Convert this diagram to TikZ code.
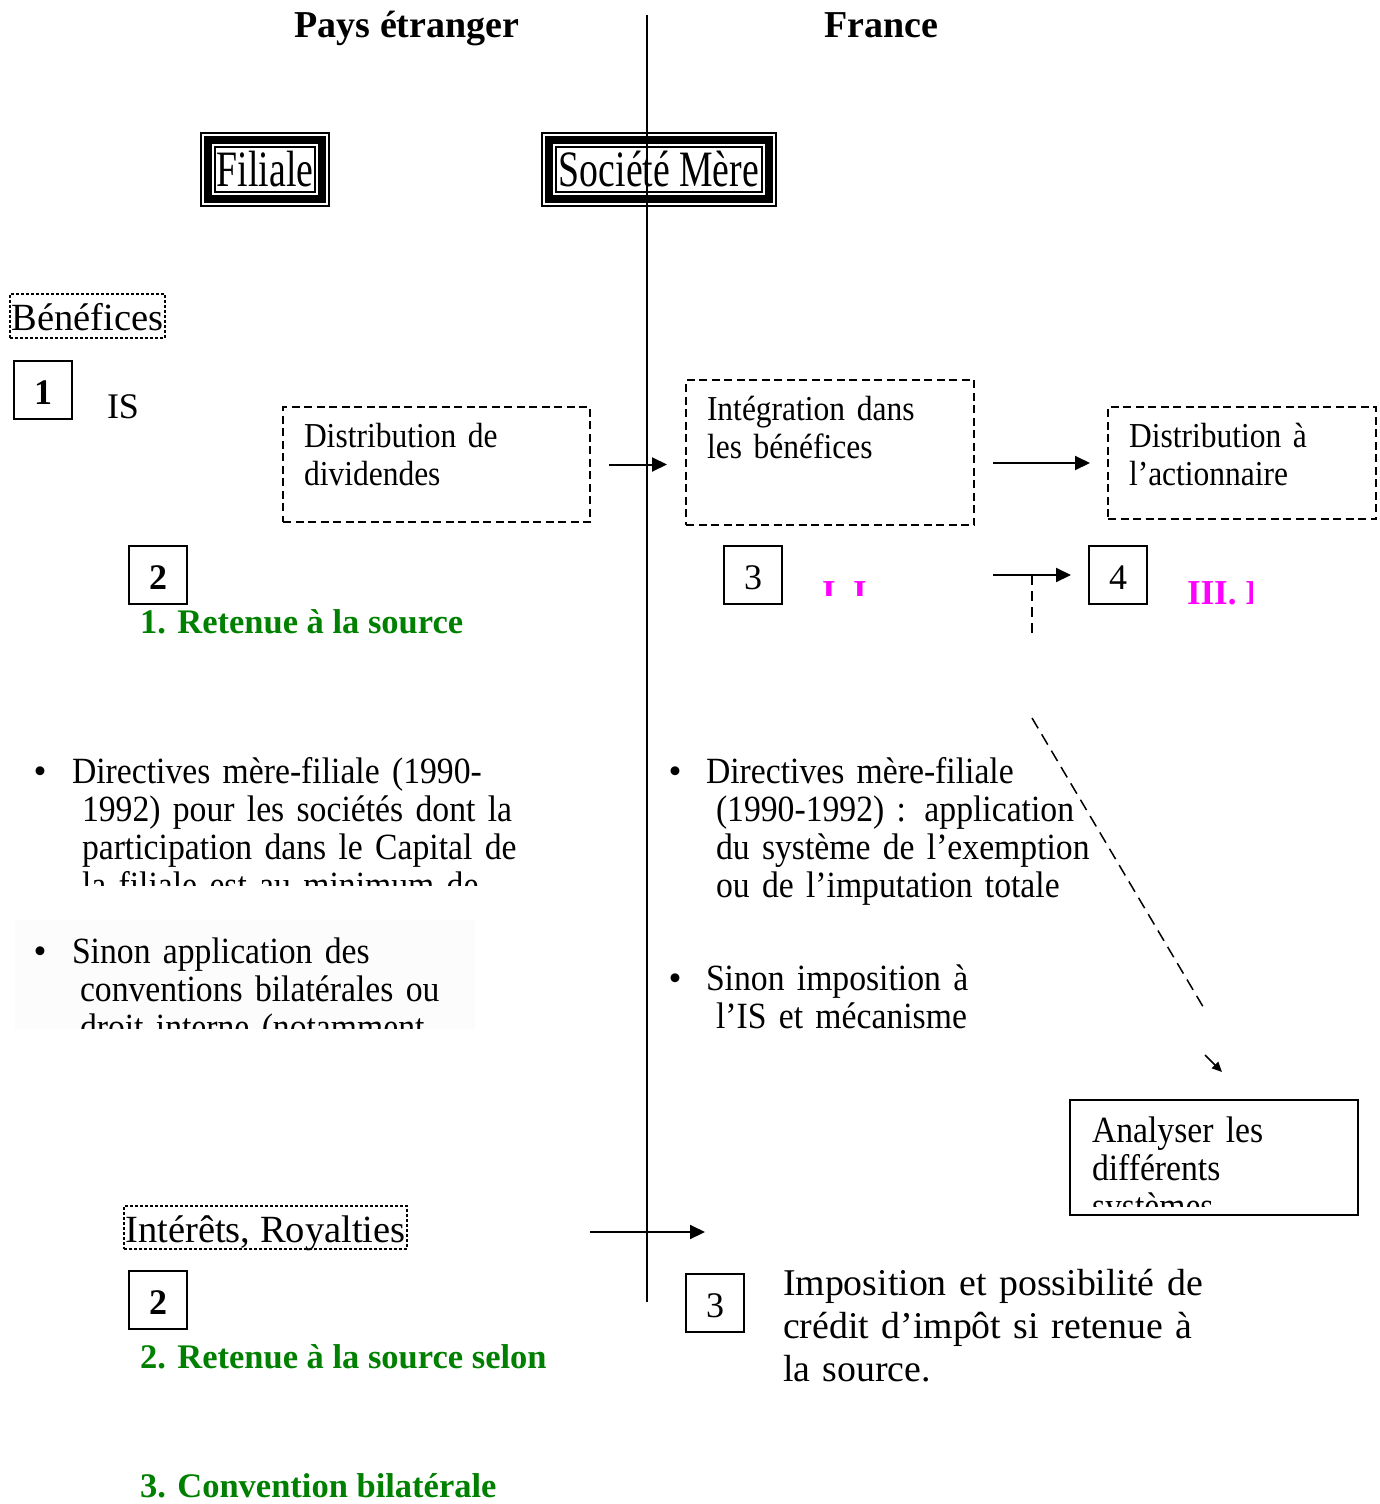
\documentclass[tikz,border=0pt]{standalone}
\usepackage{fontspec}
\setmainfont{Liberation Serif}
\newfontfamily\framefont[FakeStretch=0.74]{Liberation Serif}
\newfontfamily\boxfont[FakeStretch=0.9]{Liberation Serif}
\newfontfamily\listfont[FakeStretch=0.91]{Liberation Serif}
\usetikzlibrary{arrows.meta}
\definecolor{retgreen}{RGB}{0,128,0}
\definecolor{titlepink}{RGB}{255,0,255}

\begin{document}
\begin{tikzpicture}[x=1pt,y=-1pt,>={Triangle[length=15pt,width=14pt]},line width=2pt,
  title/.style={anchor=base,inner sep=0pt,font=\bfseries\fontsize{38}{44}\selectfont},
  frame box/.style={draw,line width=16pt,postaction={draw=white,line width=12pt},
        postaction={draw,line width=8pt},inner sep=0pt,outer sep=0pt,anchor=north west,
        font=\framefont\fontsize{51}{56}\selectfont},
  num box/.style={draw,minimum size=58pt,inner sep=0pt,outer sep=0pt,anchor=north west,
        text height=29pt,text depth=0pt,font=\fontsize{36}{40}\selectfont},
  dash box/.style={draw,dash pattern=on 8pt off 4.5pt,anchor=north west,align=left,
        inner xsep=21pt,inner ysep=0pt,outer sep=0pt,font=\boxfont\fontsize{35}{38}\selectfont},
  dot box/.style={draw,dash pattern=on 3pt off 2pt,anchor=north west,inner xsep=1.5pt,
        inner ysep=0pt,outer sep=0pt,font=\fontsize{38.5}{44}\selectfont},
  plain text/.style={anchor=base west,inner sep=0pt,font=\fontsize{38}{43}\selectfont},
  list text/.style={anchor=base west,align=left,inner sep=0pt,text width=480pt,
        font=\listfont\fontsize{37}{38}\selectfont},
  bullet/.style={anchor=base,inner sep=0pt,font=\fontsize{37}{38}\selectfont},
  green head/.style={anchor=base west,inner sep=0pt,text=retgreen,
        font=\bfseries\fontsize{34.5}{40}\selectfont},
  pink head/.style={anchor=base west,inner sep=0pt,text=titlepink,
        font=\bfseries\fontsize{35}{40}\selectfont}]
  \useasboundingbox (0,0) rectangle (1379,1504);

  % the two countries
  \coordinate (sep top) at (647,15);
  \coordinate (sep bot) at (647,1302);
  \node[title] (pays) at (407,38) {Pays étranger};
  \node[title] (france) at (881,38) {France};

  \node[frame box,minimum width=114pt,minimum height=59pt] (filiale) at (208,140) {Filiale};
  \node[frame box,minimum width=220pt,minimum height=59pt] (mere) at (549,140) {Société Mère};

  % dividendes
  \node[dot box,text height=36pt,text depth=8pt] (benef) at (10,294) {Bénéfices};
  \node[num box,font=\bfseries\fontsize{36}{40}\selectfont] (n1) at (14,361) {1};
  \node[plain text,font=\fontsize{36}{40}\selectfont] (is) at (106,418) {IS};

  \node[dash box,text width=265pt,text height=40pt,text depth=75pt] (distdiv) at (283,407)
    {Distribution de\\dividendes};
  \node[dash box,text width=246pt,text height=40pt,text depth=105pt] (integ) at (686,380)
    {Intégration dans\\les bénéfices};
  \node[dash box,text width=226pt,text height=40pt,text depth=72pt] (distact) at (1108,407)
    {Distribution à\\l’actionnaire};

  \node[num box,font=\bfseries\fontsize{36}{40}\selectfont] (n2) at (129,546) {2};
  \node[green head] (ret1) at (139,633) {1. Retenue à la source};
  \node[num box] (n3) at (724,546) {3};
  \node[num box] (n4) at (1089,546) {4};
  \begin{scope}
    \clip (800,560) rectangle (900,595);
    \node[pink head] (pink1) at (821,604) {I. I};
  \end{scope}
  \begin{scope}
    \clip (1170,560) rectangle (1252,620);
    \node[pink head] (pink2) at (1186,604) {III. I};
  \end{scope}

  \draw[->] ([xshift=19pt]distdiv.east) -- ([xshift=-19pt]distdiv.east -| integ.west);
  \draw[->] ([xshift=19pt]integ.east |- distact.west) -- ([xshift=-18pt]distact.west);
  \draw[->] ([xshift=19pt]integ.east |- n4.west) -- ([xshift=-18pt]n4.west);
  \coordinate (split) at (1032,575);
  \coordinate (split end) at (1032,633);
  \draw[dash pattern=on 10pt off 6pt] (split) -- (split end);

  % regimes
  \begin{scope}
    \clip (0,740) rectangle (540,885);
    \node[bullet] (bl1) at (40,783) {\textbullet};
    \node[list text] (left1) at (81,783)
      {\hspace*{-10pt}Directives mère-filiale (1990-\\1992) pour les sociétés dont la\\
       participation dans le Capital de\\la filiale est au minimum de};
  \end{scope}
  \begin{scope}
    \clip (15,920) rectangle (475,1028);
    \fill[black!1] (15,920) rectangle (475,1035);
    \node[bullet] (bl2) at (40,963) {\textbullet};
    \node[list text] (left2) at (79,963)
      {\hspace*{-8pt}Sinon application des\\conventions bilatérales ou\\droit interne (notamment};
  \end{scope}
  \node[bullet] (br1) at (675,783) {\textbullet};
  \node[list text] (right1) at (715,783)
    {\hspace*{-10pt}Directives mère-filiale\\(1990-1992) : application\\
     du système de l’exemption\\ou de l’imputation totale};
  \node[bullet] (br2) at (675,990) {\textbullet};
  \node[list text] (right2) at (715,990) {\hspace*{-10pt}Sinon imposition à\\l’IS et mécanisme};

  \coordinate (diag a) at (1032,718);
  \coordinate (diag b) at (1205,1010);
  \coordinate (diag c) at (1205,1055);
  \coordinate (diag d) at (1222,1072);
  \draw[line width=1.5pt,dash pattern=on 12pt off 7pt] (diag a) -- (diag b);
  \draw[line width=1.5pt,-{Triangle[length=10pt,width=9pt]}] (diag c) -- (diag d);

  \node[draw,minimum width=288pt,minimum height=115pt,inner sep=0pt,outer sep=0pt,
        anchor=north west] (analyse) at (1070,1100) {};
  \begin{scope}
    \clip (1072,1102) rectangle (1356,1206);
    \node[list text] (analyse txt) at (1091,1142) {Analyser les\\différents\\systèmes};
  \end{scope}

  % interets, royalties
  \node[dot box,text height=36pt,text depth=7pt] (interets) at (124,1206) {Intérêts, Royalties};
  \coordinate (ir start) at (590,1232);
  \coordinate (ir end) at (705,1232);
  \draw[->] (ir start) -- (ir end);
  \node[num box,font=\bfseries\fontsize{36}{40}\selectfont] (n2b) at (129,1271) {2};
  \node[green head] (ret2) at (139,1368) {2. Retenue à la source selon};
  \node[green head] (conv) at (139,1497) {3. Convention bilatérale};
  \node[num box] (n3b) at (686,1274) {3};
  \node[plain text,align=left,text width=480pt,font=\fontsize{37.8}{43}\selectfont] (impo) at (782,1295)
    {Imposition et possibilité de\\crédit d’impôt si retenue à\\la source.};

  \draw (sep top) -- (sep bot);
\end{tikzpicture}
\end{document}
